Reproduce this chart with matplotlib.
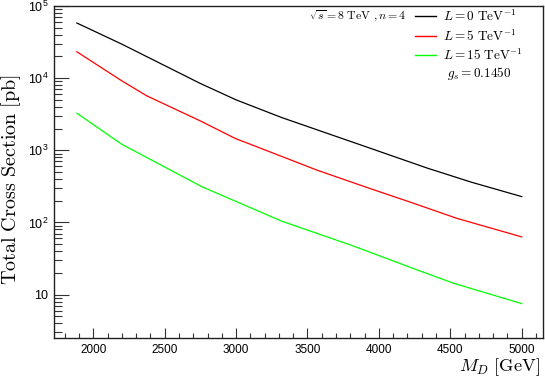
import matplotlib
matplotlib.use("Agg")
import matplotlib.pyplot as plt
from matplotlib.ticker import MultipleLocator, LogLocator, NullFormatter, FixedLocator, FixedFormatter

plt.rcParams['mathtext.fontset'] = 'cm'
plt.rcParams['mathtext.rm'] = 'Liberation Sans'
plt.rcParams['font.family'] = ['Liberation Sans', 'DejaVu Sans']

# data (M_D in GeV, cross section in pb)
x_L0 = [1885, 2200, 2750, 3000, 3320, 3940, 4340, 4650, 5000]
y_L0 = [58100, 29600, 8430, 5000, 2840, 1066, 565, 360, 228]

x_L5 = [1885, 2200, 2375, 2750, 2995, 3240, 3565, 3940, 4220, 4545, 5000]
y_L5 = [23200, 9170, 5680, 2550, 1456, 946, 532, 294, 191, 114, 63]

x_L15 = [1885, 2200, 2760, 3320, 3810, 4275, 4530, 5000]
y_L15 = [3270, 1210, 313, 104, 48, 21.7, 14.2, 7.5]

series_labels = [r'$L = 0\ \mathrm{TeV}^{-1}$', r'$L = 5\ \mathrm{TeV}^{-1}$', r'$L = 15\ \mathrm{TeV}^{-1}$']
series_colors = ['#000000', '#ff0000', '#00ff00']

ytick_vals = [10, 100, 1000, 10000, 100000]
ytick_labels = ['10', r'$10^{2}$', r'$10^{3}$', r'$10^{4}$', r'$10^{5}$']

W, H = 545, 377
fig = plt.figure(figsize=(W/100, H/100), dpi=100)
ax = fig.add_axes([54/W, 1-338/H, (543-54)/W, (338-6)/H])

lines = []
for xs, ys, c in zip([x_L0, x_L5, x_L15], [y_L0, y_L5, y_L15], series_colors):
    ln, = ax.plot(xs, ys, color=c, lw=0.9)
    lines.append(ln)

ax.set_yscale('log')
ax.set_xlim(1725, 5149)
ax.set_ylim(2.5, 1e5)

for s in ax.spines.values():
    s.set_linewidth(1.0)
    s.set_color('#222222')

ax.xaxis.set_major_locator(MultipleLocator(500))
ax.xaxis.set_minor_locator(MultipleLocator(100))
ax.yaxis.set_major_locator(FixedLocator(ytick_vals))
ax.yaxis.set_major_formatter(FixedFormatter(ytick_labels))
ax.yaxis.set_minor_locator(LogLocator(base=10, subs=range(2, 10)))
ax.yaxis.set_minor_formatter(NullFormatter())

ax.tick_params(axis='both', which='both', direction='in', color='#333333', width=0.8,
               labelsize=8.5)
ax.tick_params(axis='x', which='major', length=7, pad=4)
ax.tick_params(axis='x', which='minor', length=3.5)
ax.tick_params(axis='y', which='major', length=11, pad=4, labelsize=9)
ax.tick_params(axis='y', which='minor', length=5.5)
ax.tick_params(top=False, right=False)
for lab in ax.get_yticklabels():
    lab.set_math_fontfamily('custom')

fig.text(11.5/W, 1-180/H, r'$\mathrm{Total\ Cross\ Section\ [pb]}$', rotation=90,
         ha='center', va='center', fontsize=14.5, math_fontfamily='cm')
fig.text(540/W, 1-367/H, r'$M_D\ \mathrm{[GeV]}$', ha='right', va='center',
         fontsize=13.2, math_fontfamily='cm')

# legend
tA = ax.transAxes
def ax_x(px):
    return (px-54)/(543-54)
def ax_y(py):
    return 1-(py-6)/(338-6)

ax.text(ax_x(406), ax_y(16), r'$\sqrt{s} = 8\ \mathrm{TeV}\ , n = 4$', transform=tA,
        ha='right', va='center', fontsize=8.5)
for ln, lab, py in zip(lines, series_labels, [16, 36, 55]):
    ax.plot([ax_x(415), ax_x(436)], [ax_y(py), ax_y(py)], transform=tA,
            color=ln.get_color(), lw=1.0, clip_on=False)
    ax.text(ax_x(443), ax_y(py), lab, transform=tA, ha='left', va='center', fontsize=9.5)
ax.text(ax_x(447), ax_y(73), r'$g_s = 0.1450$', transform=tA, ha='left', va='center', fontsize=9.5)

fig.savefig('out.png', dpi=100)
